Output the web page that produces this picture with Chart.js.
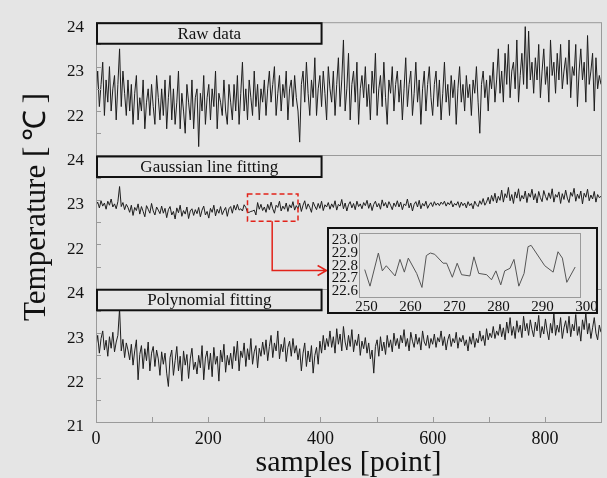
<!DOCTYPE html>
<html>
<head>
<meta charset="utf-8">
<script src="https://cdn.jsdelivr.net/npm/chart.js@4/dist/chart.umd.min.js"></script>
<style>
  body { margin: 0; background: #e5e5e5; }
  #wrap { position: relative; width: 607px; height: 478px; }
  #insetBox { position: absolute; left: 327px; top: 227px; width: 267px; height: 83px;
              border: 2px solid #111; background: #e5e5e5; }
</style>
</head>
<body>
<div id="wrap">
  <canvas id="mainChart" width="607" height="478"></canvas>
  <div id="insetBox"><canvas id="insetChart" width="267" height="83"></canvas></div>
</div>
<script>
// one value every 3 samples
const sampleStep = 3;

const rawData = [
  22.3, 22.9, 22.1, 22.6, 23.1, 21.9, 22.7, 22.2, 23.0, 22.0, 22.5, 22.8, 21.8, 22.6, 23.4, 22.1, 22.9, 22.4, 21.9, 22.7,
  22.0, 22.6, 21.7, 22.4, 22.8, 21.8, 22.3, 22.0, 22.7, 21.6, 22.2, 22.5, 21.9, 22.6, 22.1, 21.7, 22.8, 22.3, 21.8, 22.5,
  21.9, 22.7, 21.6, 22.3, 22.8, 21.8, 22.5, 21.7, 22.2, 22.9, 21.6, 22.4, 22.0, 21.5, 22.6, 22.2, 21.8, 22.7, 21.6, 22.3,
  22.5, 21.2, 22.4, 22.0, 22.8, 21.7, 22.3, 22.6, 21.8, 22.5, 22.1, 22.9, 21.6, 22.4, 22.2, 21.9, 22.7, 22.0, 21.7, 22.6,
  22.2, 21.8, 22.6, 22.0, 22.8, 21.7, 22.4, 23.1, 22.0, 22.5, 21.8, 22.7, 22.3, 21.9, 22.9, 22.1, 22.6, 21.8, 22.5, 22.2,
  22.7, 21.9, 22.5, 22.9, 22.2, 22.6, 23.0, 21.9, 22.4, 22.8, 22.0, 22.6, 22.3, 22.9, 21.8, 22.5, 22.7, 22.1, 22.8, 22.3,
  22.0, 21.3, 22.6, 22.9, 22.2, 23.1, 22.4, 21.9, 22.7, 22.3, 23.2, 21.9, 22.5, 22.8, 22.1, 22.9, 22.4, 21.8, 23.0, 22.5,
  22.2, 22.9, 21.9, 22.6, 23.2, 22.1, 22.7, 23.6, 22.0, 22.5, 23.3, 21.8, 22.6, 22.9, 22.2, 23.1, 21.7, 22.5, 22.8, 22.3,
  23.0, 22.1, 22.6, 21.8, 22.9, 22.4, 23.3, 21.9, 22.5, 22.8, 22.1, 23.1, 22.3, 21.7, 22.7, 22.4, 23.0, 22.0, 22.6, 22.9,
  22.2, 22.7, 21.8, 22.5, 23.2, 22.1, 22.6, 22.9, 21.9, 22.4, 23.1, 22.2, 22.7, 21.7, 22.5, 22.9, 22.0, 22.6, 23.0, 22.3,
  21.9, 22.6, 22.9, 22.1, 22.7, 21.8, 22.4, 23.1, 22.2, 22.6, 21.9, 22.8, 22.3, 22.7, 21.7, 22.5, 23.0, 22.2, 22.6, 22.0,
  22.8, 22.3, 22.6, 21.9, 22.7, 22.4, 23.0, 22.2, 21.5, 22.6, 22.9, 22.3, 22.7, 22.0, 22.8, 22.5, 23.1, 22.2, 22.7, 23.4,
  22.4, 22.9, 22.2, 23.3, 22.6, 23.5, 22.3, 22.9, 23.1, 22.5, 23.6, 22.2, 22.8, 23.3, 22.6, 23.9, 22.5, 23.8, 22.7, 23.1,
  22.4, 23.2, 22.7, 23.5, 22.3, 22.9, 23.4, 22.6, 23.0, 22.2, 23.6, 22.8, 23.1, 22.4, 23.3, 22.7, 23.5, 22.5, 22.9, 23.2,
  22.6, 23.6, 22.3, 23.0, 22.8, 23.5, 22.1, 22.9, 23.4, 22.7, 23.1, 22.2, 23.7, 22.6, 22.9, 23.3, 22.0, 23.2, 22.5, 22.8,
  22.6
];

const gaussData = [
  22.88, 22.95, 22.82, 22.98, 22.86, 22.93, 22.79, 22.97, 22.88, 23.02, 22.84, 22.91, 22.80, 22.96, 23.30, 22.85, 22.94, 22.78, 22.90, 22.83,
  22.72, 22.88, 22.65, 22.83, 22.76, 22.91, 22.68, 22.85, 22.74, 22.62, 22.87, 22.79, 22.70, 22.92, 22.75, 22.66, 22.84, 22.77, 22.69, 22.86,
  22.70, 22.81, 22.60, 22.78, 22.85, 22.66, 22.74, 22.57, 22.82, 22.71, 22.88, 22.63, 22.76, 22.68, 22.84, 22.58, 22.75, 22.80, 22.65, 22.78,
  22.69, 22.83, 22.62, 22.77, 22.86, 22.66, 22.74, 22.59, 22.81, 22.72, 22.88, 22.64, 22.79, 22.70, 22.85, 22.67, 22.76, 22.83, 22.63, 22.80,
  22.85, 22.70, 22.88, 22.77, 22.90, 22.77, 22.80, 22.75, 22.89, 22.83, 22.72, 22.72, 22.74, 22.75, 22.77, 22.66, 22.94, 22.79, 22.90, 22.76,
  22.84, 22.72, 22.90, 22.78, 22.95, 22.80, 22.70, 22.88, 22.83, 22.97, 22.75, 22.86, 22.79, 22.93, 22.74, 22.89, 22.82, 22.96, 22.77, 22.87,
  22.80, 22.93, 22.74, 22.88, 22.98, 22.79, 22.91, 22.83, 22.72, 22.95, 22.86, 22.78, 22.92, 22.81, 22.97, 22.76, 22.89, 22.84, 22.94, 22.79,
  22.91, 22.83, 22.98, 22.77, 22.90, 22.86, 23.01, 22.80, 22.93, 22.75, 22.89, 22.96, 22.82, 22.92, 22.78, 22.97, 22.85, 22.91, 22.80, 22.94,
  22.87, 22.99, 22.81, 22.93, 22.76, 22.90, 22.97, 22.84, 22.92, 22.79, 23.00, 22.86, 22.94, 22.82, 22.96, 22.88, 22.78, 22.93, 22.85, 22.98,
  22.84, 22.95, 22.78, 22.91, 22.87, 23.02, 22.82, 22.93, 22.75, 22.90, 22.96, 22.84, 22.99, 22.80, 22.92, 22.86, 22.97, 22.81, 22.89, 22.94,
  22.85, 22.96, 22.88, 22.93, 22.87, 22.95, 22.90, 22.97, 22.86, 22.94, 22.89, 22.98, 22.84, 22.92, 22.88, 22.96, 22.83, 22.95, 22.87, 22.93,
  22.82, 22.96, 22.87, 22.92, 22.80, 22.97, 22.89, 22.85, 22.98, 22.90, 23.03, 22.88, 22.95, 23.06, 22.91, 23.10, 22.97, 23.15, 22.93, 23.08,
  22.99, 23.22, 22.95, 23.14, 23.05, 23.28, 22.98, 23.12, 22.92, 23.18, 23.04, 23.25, 22.97, 23.10, 23.02, 23.20, 22.94, 23.15, 23.06, 23.24,
  23.00, 23.14, 22.93, 23.19, 23.05, 22.96, 23.21, 23.08, 22.99, 23.16, 23.03, 23.25, 22.95, 23.12, 23.06, 23.18, 22.92, 23.14, 23.01, 23.22,
  23.04, 22.94, 23.17, 23.08, 23.26, 22.97, 23.13, 23.03, 23.20, 22.91, 23.15, 23.06, 23.24, 22.98, 23.11, 23.02, 23.19, 22.95, 23.12, 23.05,
  23.08
];

const polyData = [
  22.70, 22.95, 22.55, 22.88, 23.05, 22.62, 22.84, 22.48, 22.92, 22.66, 23.02, 22.58, 22.80, 22.95, 23.55, 22.60, 22.86, 22.45, 22.78, 22.62,
  22.40, 22.75, 22.28, 22.60, 22.85, 21.95, 22.52, 22.72, 22.20, 22.65, 22.38, 22.80, 22.15, 22.55, 22.70, 22.25, 22.62, 22.42, 22.05, 22.58,
  22.30, 22.55, 22.10, 21.80, 22.45, 22.62, 22.05, 22.38, 22.70, 22.15, 22.48, 21.92, 22.60, 22.28, 22.52, 21.98, 22.42, 22.66, 22.18, 22.35,
  22.08, 22.50, 22.22, 22.72, 21.95, 22.44, 22.60, 22.18, 22.55, 22.02, 22.68, 22.30, 22.48, 21.92, 22.62, 22.35, 22.75, 22.12, 22.50, 22.28,
  22.55, 22.20, 22.70, 22.38, 22.82, 22.15, 22.60, 22.45, 22.78, 22.25, 22.65, 22.40, 22.88, 22.30, 22.58, 22.72, 22.22, 22.66, 22.48, 22.80,
  22.52, 22.85, 22.38, 22.70, 22.95, 22.45, 22.78, 22.60, 23.05, 22.42, 22.75, 22.58, 22.90, 22.36, 22.68, 22.82, 22.48, 22.88, 22.55, 22.72,
  22.40, 22.65, 22.15, 22.55, 22.78, 22.25, 22.60, 22.35, 22.72, 22.10, 22.50, 22.68, 22.30, 22.82, 22.55, 22.95, 22.62, 22.88, 22.70, 23.05,
  22.68, 22.92, 22.55, 23.10, 22.75, 22.98, 22.60, 23.15, 22.80, 22.62, 22.95, 22.70, 23.08, 22.58, 22.85, 22.72, 22.98, 22.50, 22.82, 22.65,
  22.90, 22.55, 22.78, 22.42, 22.62, 22.10, 22.70, 22.85, 22.48, 22.92, 22.60, 22.80, 22.52, 22.95, 22.68, 22.85, 22.58, 23.00, 22.72, 22.88,
  22.65, 22.95, 22.78, 23.08, 22.70, 22.88, 22.60, 23.02, 22.82, 22.68, 22.98, 22.75, 22.90, 22.62, 23.05, 22.80, 22.72, 22.95, 22.66, 22.88,
  22.75, 22.98, 22.68, 22.90, 22.80, 23.05, 22.72, 22.92, 22.62, 22.85, 22.98, 22.70, 22.88, 22.78, 23.02, 22.66, 22.90, 22.80, 22.95, 22.72,
  22.85, 22.60, 22.92, 22.75, 23.00, 22.68, 22.88, 22.78, 23.05, 22.82, 22.95, 22.72, 23.10, 22.85, 23.00, 22.90, 23.15, 22.88, 23.05, 22.95,
  23.20, 22.92, 23.12, 22.85, 23.25, 23.00, 23.35, 22.95, 23.15, 22.88, 23.28, 23.02, 23.18, 22.90, 23.38, 23.05, 23.22, 22.95, 23.30, 23.08,
  22.92, 23.25, 23.05, 23.40, 22.90, 23.15, 22.98, 23.32, 23.05, 22.85, 23.22, 23.00, 23.45, 22.95, 23.18, 23.02, 23.35, 22.88, 23.12, 23.28,
  23.00, 23.38, 22.92, 23.20, 23.05, 23.42, 22.95, 23.15, 22.82, 23.30, 23.08, 23.45, 22.98, 23.22, 22.88, 23.12, 23.35, 23.00, 22.85, 23.18,
  23.02
];

const panelNames = ['Raw data', 'Gaussian line fitting', 'Polynomial fitting'];
const panelShift = [6, 3, 0];   // each panel is stacked on one axis, 3 units apart
const yTickValues = [21, 22, 23, 24, 25, 26, 27, 28, 29, 30];
const xTickValues = [0, 200, 400, 600, 800];

// zoomed part of the gaussian series (inset)
const insetX = [249.6, 250.8, 252.7, 253.6, 254.5, 256.5, 257.6, 258.6, 259.5, 261.4, 262.6, 263.6, 264.5, 265.5,
  267.4, 268.2, 269.5, 270.6, 271.6, 273.5, 274.4, 275.5, 277.3, 278.4, 279.4, 280.5, 281.4, 282.6, 283.5,
  284.6, 285.8, 286.7, 287.4, 290.5, 292.4, 293.5, 294.5, 295.5, 297.4];
const insetY = [22.77, 22.64, 22.90, 22.76, 22.80, 22.72, 22.85, 22.75, 22.86, 22.74, 22.63, 22.88, 22.90, 22.89,
  22.82, 22.82, 22.71, 22.82, 22.73, 22.72, 22.87, 22.74, 22.73, 22.69, 22.76, 22.65, 22.76, 22.78, 22.85,
  22.64, 22.74, 22.95, 22.96, 22.80, 22.75, 22.91, 22.86, 22.67, 22.79];
const insetXTicks = [250, 260, 270, 280, 290, 300];
const insetYTicks = [22.6, 22.7, 22.8, 22.9, 23.0];

Chart.defaults.font.family = "'Liberation Serif', 'Times New Roman', serif";
Chart.defaults.color = '#111';

const bg = '#e5e5e5';
const frameGray = '#9a9a9a';
const red = '#e2231a';

function toPoints(values, shift) {
  return values.map((v, i) => ({ x: i * sampleStep, y: v + shift }));
}

function tickLabel(v) {
  if (v > 27) return v - 6;
  if (v > 24) return v - 3;
  return v;
}

const mainDecor = {
  id: 'mainDecor',
  afterDatasetsDraw(chart) {
    const { ctx, chartArea: a, scales: { x, y } } = chart;
    ctx.save();
    ctx.strokeStyle = frameGray;
    ctx.lineWidth = 1;
    ctx.strokeRect(a.left + 0.5, a.top + 0.5, a.width, a.height);
    // separators between panels
    ctx.beginPath();
    panelShift.slice(1).forEach(s => {
      const py = Math.round(y.getPixelForValue(24 + s)) + 0.5;
      ctx.moveTo(a.left, py);
      ctx.lineTo(a.right, py);
    });
    // inward tick marks
    for (let v = 21; v <= 30; v += 0.5) {
      const py = Math.round(y.getPixelForValue(v)) + 0.5;
      ctx.moveTo(a.left, py);
      ctx.lineTo(a.left + 5, py);
    }
    for (let v = 100; v < 900; v += 100) {
      const px = Math.round(x.getPixelForValue(v)) + 0.5;
      ctx.moveTo(px, a.bottom);
      ctx.lineTo(px, a.bottom - 5);
    }
    ctx.stroke();

    // panel name boxes
    panelNames.forEach((name, i) => {
      const top = y.getPixelForValue(24 + panelShift[i]) + 1;
      const bot = y.getPixelForValue(24 + panelShift[i] - 0.485);
      const left = x.getPixelForValue(0) + 1;
      const right = x.getPixelForValue(402);
      ctx.fillStyle = bg;
      ctx.fillRect(left, top, right - left, bot - top);
      ctx.strokeStyle = '#111';
      ctx.lineWidth = 2;
      ctx.strokeRect(left, top, right - left, bot - top);
      ctx.fillStyle = '#111';
      ctx.font = "17px 'Liberation Serif', serif";
      ctx.textAlign = 'center';
      ctx.textBaseline = 'middle';
      ctx.fillText(name, (left + right) / 2, (top + bot) / 2 + 1);
    });

    // dashed zoom box on gaussian panel and arrow to inset
    const s = panelShift[1];
    const bx0 = x.getPixelForValue(270), bx1 = x.getPixelForValue(360);
    const by0 = y.getPixelForValue(23.13 + s), by1 = y.getPixelForValue(22.52 + s);
    ctx.strokeStyle = red;
    ctx.lineWidth = 1.5;
    ctx.setLineDash([5, 3]);
    ctx.strokeRect(bx0, by0, bx1 - bx0, by1 - by0);
    ctx.setLineDash([]);
    const ax = x.getPixelForValue(314);
    const ay = y.getPixelForValue(21.41 + s);
    const tipX = x.getPixelForValue(411);
    ctx.beginPath();
    ctx.moveTo(ax, by1);
    ctx.lineTo(ax, ay);
    ctx.lineTo(tipX, ay);
    ctx.moveTo(tipX - 9, ay - 5);
    ctx.lineTo(tipX, ay);
    ctx.lineTo(tipX - 9, ay + 5);
    ctx.stroke();

    // y axis title, placed like the original (a bit above centre)
    ctx.translate(37, 207);
    ctx.rotate(-Math.PI / 2);
    ctx.fillStyle = '#111';
    ctx.font = "31px 'Liberation Serif', serif";
    ctx.textAlign = 'center';
    ctx.textBaseline = 'middle';
    ctx.fillText('Temperature [\u2009℃\u2009]', 0, 0);
    ctx.restore();
  }
};

new Chart(document.getElementById('mainChart'), {
  type: 'line',
  data: {
    datasets: [rawData, gaussData, polyData].map((vals, i) => ({
      data: toPoints(vals, panelShift[i]),
      borderColor: '#1e1e1e',
      borderWidth: 1,
      pointRadius: 0,
      tension: 0
    }))
  },
  options: {
    responsive: false,
    animation: false,
    devicePixelRatio: 1,
    layout: { padding: { top: 21, right: 6, bottom: 0, left: 0 } },
    plugins: { legend: { display: false }, tooltip: { enabled: false } },
    scales: {
      x: {
        type: 'linear', min: 0, max: 900,
        afterBuildTicks: sc => { sc.ticks = xTickValues.map(v => ({ value: v })); },
        afterFit: sc => { sc.height = 56; },
        grid: { display: false, drawTicks: false },
        border: { display: false },
        ticks: { font: { size: 18 }, padding: 6, maxRotation: 0, autoSkip: false, color: '#111' },
        title: { display: true, text: 'samples [point]', font: { size: 30, lineHeight: 1 }, padding: 0, color: '#111' }
      },
      y: {
        type: 'linear', min: 21, max: 30,
        afterBuildTicks: sc => { sc.ticks = yTickValues.map(v => ({ value: v })); },
        afterFit: sc => { sc.width = 96; },
        grid: { display: false, drawTicks: false },
        border: { display: false },
        ticks: { font: { size: 17 }, padding: 12, labelOffset: 5, autoSkip: false, color: '#111', callback: v => tickLabel(v) }
      }
    }
  },
  plugins: [mainDecor]
});

const insetFrame = {
  id: 'insetFrame',
  afterDatasetsDraw(chart) {
    const { ctx, chartArea: a } = chart;
    ctx.save();
    ctx.strokeStyle = frameGray;
    ctx.lineWidth = 1;
    ctx.strokeRect(a.left + 0.5, a.top + 0.5, a.width, a.height);
    ctx.restore();
  }
};

new Chart(document.getElementById('insetChart'), {
  type: 'line',
  data: {
    datasets: [{
      data: insetX.map((v, i) => ({ x: v, y: insetY[i] })),
      borderColor: '#555',
      borderWidth: 1,
      pointRadius: 0,
      tension: 0
    }]
  },
  options: {
    responsive: false,
    animation: false,
    devicePixelRatio: 1,
    layout: { padding: { top: 4, right: 16, bottom: 0, left: 0 } },
    plugins: { legend: { display: false }, tooltip: { enabled: false } },
    scales: {
      x: {
        type: 'linear', min: 248.3, max: 298.5,
        afterBuildTicks: sc => { sc.ticks = insetXTicks.map(v => ({ value: v })); },
        afterFit: sc => { sc.height = 15; sc.paddingLeft = 0; sc.paddingRight = 0; },
        grid: { display: false, drawTicks: false },
        border: { display: false },
        ticks: { font: { size: 15 }, padding: 1, maxRotation: 0, autoSkip: false, color: '#111' }
      },
      y: {
        type: 'linear', min: 22.555, max: 23.057,
        afterBuildTicks: sc => { sc.ticks = insetYTicks.map(v => ({ value: v })); },
        afterFit: sc => { sc.width = 30; sc.paddingTop = 0; sc.paddingBottom = 0; },
        grid: { display: false, drawTicks: false },
        border: { display: false },
        ticks: { font: { size: 15 }, padding: 1, autoSkip: false, color: '#111', callback: v => v.toFixed(1) }
      }
    }
  },
  plugins: [insetFrame]
});
</script>
</body>
</html>
